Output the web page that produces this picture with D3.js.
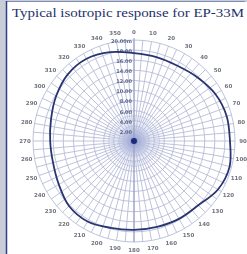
<!DOCTYPE html>
<html>
<head>
<meta charset="utf-8">
<script src="https://cdn.jsdelivr.net/npm/d3@7"></script>
<style>
  body { margin: 0; background: #c9cdd8; }
  svg { display: block; }
</style>
</head>
<body>
<script>
// angulos (grados, 0 arriba, sentido horario) y respuesta (unidades de anillo)
const angles = [0, 15, 30, 45, 60, 75, 90, 105, 120, 135, 150, 165,
                180, 195, 210, 225, 240, 255, 270, 285, 300, 315, 330, 345];
const response = [8.7, 8.6, 8.6, 8.9, 9.3, 9.5, 9.5, 9.8, 9.6, 9.0, 8.9, 8.8,
                  8.8, 8.9, 9.2, 9.1, 8.6, 8.3, 8.3, 8.5, 8.9, 9.3, 9.4, 9.1];
const angleTicks = d3.range(0, 360, 10);
const ringTicks = [10, 9, 8, 7, 6, 5, 4, 3, 2, 1];
const ringLabels = ["20.00m", "18.00", "16.00", "14.00", "12.00", "10.00", "8.00", "6.00", "4.00", "2.00"];
const title = "Typical isotropic response for EP-33M";

const width = 247;
const height = 254;
const cx = 134, cy = 141;
const R = 101;          // radio del anillo exterior

const svg = d3.select("body")
  .append("svg")
  .attr("width", width)
  .attr("height", height);

const defs = svg.append("defs");

// desenfoque suave, como la foto original
defs.append("filter").attr("id", "soft")
  .append("feGaussianBlur").attr("stdDeviation", 0.45);
defs.append("filter").attr("id", "softer")
  .append("feGaussianBlur").attr("stdDeviation", 0.75);

// fondo y marco
svg.append("rect")
  .attr("x", 7).attr("y", 2)
  .attr("width", width - 7).attr("height", height - 2)
  .attr("fill", "white");

svg.append("line")
  .attr("x1", 7).attr("y1", 1.5).attr("x2", 245).attr("y2", 1.5)
  .attr("stroke", "#7f8db8").attr("stroke-width", 1);

svg.append("line")
  .attr("x1", 6.5).attr("y1", 1).attr("x2", 6.5).attr("y2", height)
  .attr("stroke", "#2c3f86").attr("stroke-width", 1.5);

// titulo
svg.append("text")
  .attr("x", 12)
  .attr("y", 17)
  .attr("textLength", 232)
  .attr("lengthAdjust", "spacingAndGlyphs")
  .attr("font-family", "Liberation Serif, Times New Roman, Times, serif")
  .attr("font-size", 13.5)
  .attr("fill", "#24306a")
  .text(title);

const r = d3.scaleLinear().domain([0, 10]).range([0, R]);
const toRad = a => a * Math.PI / 180;

const g = svg.append("g")
  .attr("transform", `translate(${cx}, ${cy})`);

// halo central
const grad = defs.append("radialGradient").attr("id", "halo");
grad.append("stop").attr("offset", "0%").attr("stop-color", "#6f7fc0").attr("stop-opacity", 0.9);
grad.append("stop").attr("offset", "45%").attr("stop-color", "#aab4dc").attr("stop-opacity", 0.6);
grad.append("stop").attr("offset", "100%").attr("stop-color", "#dde2f2").attr("stop-opacity", 0);

g.append("circle")
  .attr("r", r(2.7))
  .attr("fill", "url(#halo)");

const grid = g.append("g").attr("filter", "url(#soft)");

// anillos
grid.selectAll(".ring")
  .data(ringTicks)
  .join("circle")
  .attr("class", "ring")
  .attr("r", d => r(d))
  .attr("fill", "none")
  .attr("stroke", "#b6bcd8")
  .attr("stroke-width", 0.9);

grid.selectAll(".ring-fine")
  .data([0.5, 1.5, 2.5])
  .join("circle")
  .attr("class", "ring-fine")
  .attr("r", d => r(d))
  .attr("fill", "none")
  .attr("stroke", "#b8bfe0")
  .attr("stroke-width", 0.7);

// radios cada 5 grados
grid.selectAll(".spoke")
  .data(d3.range(0, 360, 5))
  .join("line")
  .attr("class", "spoke")
  .attr("x1", d => Math.sin(toRad(d)) * r(d % 10 === 0 ? 1 : 2))
  .attr("y1", d => -Math.cos(toRad(d)) * r(d % 10 === 0 ? 1 : 2))
  .attr("x2", d => Math.sin(toRad(d)) * R)
  .attr("y2", d => -Math.cos(toRad(d)) * R)
  .attr("stroke", "#b6bcd8")
  .attr("stroke-width", 0.9);

// eje vertical mas marcado
grid.append("line")
  .attr("x1", 0).attr("y1", -R - 2).attr("x2", 0).attr("y2", R)
  .attr("stroke", "#9098c0").attr("stroke-width", 1);

const labels = g.append("g").attr("filter", "url(#softer)");

// etiquetas de angulo
labels.selectAll(".alabel")
  .data(angleTicks)
  .join("text")
  .attr("class", "alabel")
  .attr("x", d => Math.sin(toRad(d)) * (R + 8))
  .attr("y", d => -Math.cos(toRad(d)) * (R + 8))
  .attr("text-anchor", "middle")
  .attr("dominant-baseline", "middle")
  .attr("font-family", "DejaVu Sans, sans-serif")
  .attr("font-size", 5.5)
  .attr("font-weight", "bold")
  .attr("fill", "#70747f")
  .text(d => d);

// etiquetas de anillo sobre el eje 0
labels.selectAll(".rlabel")
  .data(ringTicks)
  .join("text")
  .attr("class", "rlabel")
  .attr("x", -2)
  .attr("y", d => -r(d) + 1.5)
  .attr("text-anchor", "end")
  .attr("dominant-baseline", "middle")
  .attr("font-family", "DejaVu Sans, sans-serif")
  .attr("font-size", 5)
  .attr("font-weight", "bold")
  .attr("fill", "#5a6488")
  .text((d, i) => ringLabels[i]);

// punto central
g.append("circle")
  .attr("r", 3)
  .attr("fill", "#1d2b78")
  .attr("filter", "url(#soft)");

// curva de respuesta
const points = angles.map((a, i) => [toRad(a), r(response[i])]);
const line = d3.lineRadial()
  .angle(d => d[0])
  .radius(d => d[1])
  .curve(d3.curveCardinalClosed);

g.append("path")
  .attr("d", line(points))
  .attr("fill", "none")
  .attr("stroke", "#2a3470")
  .attr("stroke-width", 1.8)
  .attr("filter", "url(#soft)");
</script>
</body>
</html>
